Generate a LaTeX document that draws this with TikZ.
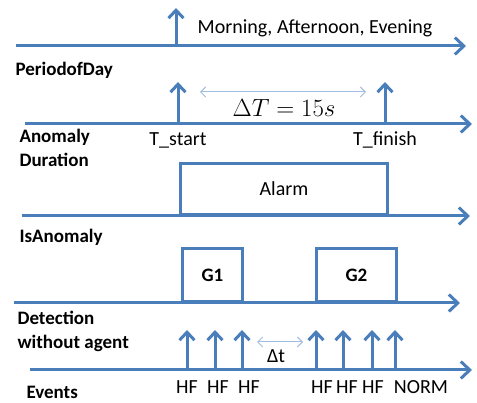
\documentclass[tikz,border=0pt]{standalone}
\usepackage{fontspec}
\setmainfont{Carlito}
\usepackage{tikz}
\usetikzlibrary{arrows.meta}

\definecolor{lineblue}{RGB}{74,126,187}
\definecolor{paleblue}{RGB}{160,188,222}

\begin{document}
\begin{tikzpicture}[x=1pt,y=-1pt,
  font=\fontsize{20}{24}\selectfont,
  axis/.style={lineblue,line width=3pt,-{Straight Barb[length=9pt,width=17pt]}},
  tick/.style={lineblue,line width=3pt,-{Straight Barb[length=8pt,width=15pt]}},
  span/.style={paleblue,line width=1pt,{Straight Barb[length=5pt,width=10pt]}-{Straight Barb[length=5pt,width=10pt]}},
  pulse/.style={draw=lineblue,line width=3pt,anchor=south west,inner sep=0pt},
  lab/.style={anchor=west,font=\fontsize{19}{23}\selectfont\bfseries}]
\useasboundingbox (0,0) rectangle (477,403);

% axes
\coordinate (a1s) at (16,46);  \coordinate (a1e) at (466,46);
\coordinate (a2s) at (25,124); \coordinate (a2e) at (472,124);
\coordinate (a3s) at (22,216); \coordinate (a3e) at (470,216);
\coordinate (a4s) at (14,303); \coordinate (a4e) at (460,303);
\coordinate (a5s) at (30,370); \coordinate (a5e) at (472,370);
\foreach \i in {1,...,5}
  \draw[axis] (a\i s) -- (a\i e);

% row labels
\node[lab] (pday) at (12,70) {PeriodofDay};
\node[lab] (anom) at (16,137) {Anomaly};
\node[lab] (dur) at (16,160) {Duration};
\node[lab] (isan) at (16,237) {IsAnomaly};
\node[lab] (det) at (14,318) {Detection};
\node[lab] (noag) at (14,343) {without agent};
\node[lab] (evts) at (23,392) {Events};

% period of day
\coordinate (pd0) at (176,46); \coordinate (pd1) at (176,8);
\draw[tick] (pd0) -- (pd1);
\node (mae) at (315,28) {Morning, Afternoon, Evening};

% anomaly duration
\coordinate (ts0) at (178,124); \coordinate (ts1) at (178,82);
\coordinate (tf0) at (385,124); \coordinate (tf1) at (385,82);
\draw[tick] (ts0) -- (ts1);
\draw[tick] (tf0) -- (tf1);
\node (tstart) at (178,140) {T\_start};
\node (tfin) at (385,140) {T\_finish};
\coordinate (dtl) at (200,92); \coordinate (dtr) at (366,92);
\draw[span] (dtl) -- (dtr);
\node[font=\fontsize{23}{27}\selectfont] (dT) at (284,108) {$\Delta T = 15s$};

% is anomaly
\node[pulse,minimum width=207pt,minimum height=51pt] (alarm) at (179,216) {Alarm};

% detection without agent
\node[pulse,minimum width=60pt,minimum height=53pt,font=\fontsize{19}{23}\selectfont\bfseries] (g1) at (181,303) {G1};
\node[pulse,minimum width=80pt,minimum height=53pt,font=\fontsize{19}{23}\selectfont\bfseries] (g2) at (315,303) {G2};

% events
\foreach \x [count=\k] in {187,215,242,316,343,372,395} {
  \coordinate (e\k) at (\x,370);
  \coordinate (f\k) at (\x,330);
  \draw[tick] (e\k) -- (f\k);
}
\foreach \x/\t [count=\k] in {187/HF,218/HF,249/HF,322/HF,347/HF,373/HF,421/NORM}
  \node (ev\k) at (\x,387) {\t};
\coordinate (gl) at (257,342); \coordinate (gr) at (303,342);
\draw[span] (gl) -- (gr);
\node (dt) at (276,356) {Δt};
\end{tikzpicture}
\end{document}
